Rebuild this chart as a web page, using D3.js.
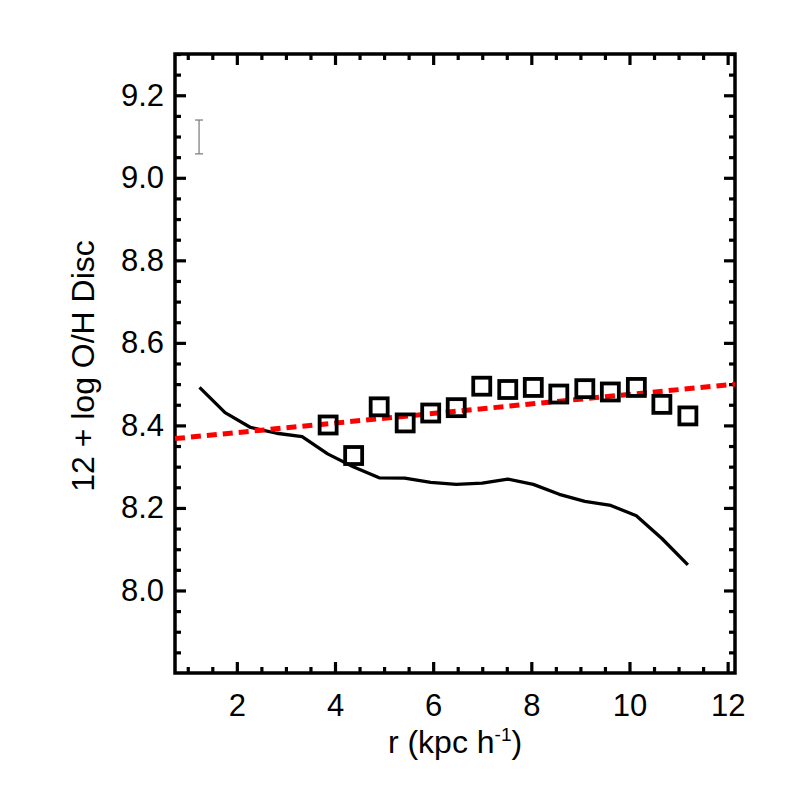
<!DOCTYPE html>
<html>
<head>
<meta charset="utf-8">
<script src="https://cdn.jsdelivr.net/npm/d3@7"></script>
<style>
  body { margin: 0; background: #fff; }
  text { font-family: "Liberation Sans", Arial, Helvetica, sans-serif; fill: #000; }
</style>
</head>
<body>
<script>
// model profile (solid line)
var modelR = [1.24, 1.76, 2.28, 2.81, 3.33, 3.85, 4.37, 4.90, 5.42, 5.95,
              6.47, 7.00, 7.52, 8.04, 8.57, 9.09, 9.62, 10.14, 10.66, 11.19];
var modelOH = [8.492, 8.431, 8.395, 8.381, 8.373, 8.331, 8.300, 8.273, 8.272, 8.262,
               8.257, 8.260, 8.270, 8.257, 8.233, 8.216, 8.206, 8.181, 8.126, 8.062];

// observed points (squares)
var obsR = [3.86, 4.38, 4.90, 5.43, 5.95, 6.47, 6.99, 7.52, 8.04, 8.56,
            9.09, 9.61, 10.14, 10.66, 11.19];
var obsOH = [8.401, 8.327, 8.445, 8.406, 8.430, 8.443, 8.495, 8.487, 8.492, 8.476,
             8.489, 8.481, 8.492, 8.451, 8.423];

// fitted gradient (red dotted)
var fitR = [0.74, 12.15];
var fitOH = [8.368, 8.500];

// typical error bar
var errR = [1.23];
var errOH = [9.099];
var errSize = [0.041];

var xTicks = [2, 4, 6, 8, 10, 12];
var yTicks = [8.0, 8.2, 8.4, 8.6, 8.8, 9.0, 9.2];

var width = 786, height = 786;

var svg = d3.select("body").append("svg")
    .attr("width", width)
    .attr("height", height);

var x = d3.scaleLinear().domain([0.74, 12.15]).range([175, 735]);
var y = d3.scaleLinear().domain([7.8, 9.3]).range([673, 54]);

var xMinor = d3.range(1, 12.01, 0.5).filter(v => xTicks.indexOf(v) < 0);
var yMinor = d3.range(7.85, 9.3, 0.05).filter(v => !yTicks.some(t => Math.abs(t - v) < 1e-6));

function styleAxis(g) {
  g.select(".domain").remove();
  g.selectAll(".tick line").attr("stroke", "#000").attr("stroke-width", 3.2);
  g.selectAll("text").style("font-size", "31px").attr("fill", "#000");
}

// bottom
svg.append("g").attr("transform", `translate(0,${y.range()[0]})`)
  .call(d3.axisBottom(x).tickValues(xTicks).tickSize(-11).tickPadding(21).tickFormat(d3.format("d")))
  .call(styleAxis);
svg.append("g").attr("transform", `translate(0,${y.range()[0]})`)
  .call(d3.axisBottom(x).tickValues(xMinor).tickSize(-6).tickFormat(""))
  .call(styleAxis);
// top
svg.append("g").attr("transform", `translate(0,${y.range()[1]})`)
  .call(d3.axisTop(x).tickValues(xTicks).tickSize(-11).tickFormat(""))
  .call(styleAxis);
svg.append("g").attr("transform", `translate(0,${y.range()[1]})`)
  .call(d3.axisTop(x).tickValues(xMinor).tickSize(-6).tickFormat(""))
  .call(styleAxis);
// left
svg.append("g").attr("transform", `translate(${x.range()[0]},0)`)
  .call(d3.axisLeft(y).tickValues(yTicks).tickSize(-11).tickPadding(11).tickFormat(d3.format(".1f")))
  .call(styleAxis);
svg.append("g").attr("transform", `translate(${x.range()[0]},0)`)
  .call(d3.axisLeft(y).tickValues(yMinor).tickSize(-6).tickFormat(""))
  .call(styleAxis);
// right
svg.append("g").attr("transform", `translate(${x.range()[1]},0)`)
  .call(d3.axisRight(y).tickValues(yTicks).tickSize(-11).tickFormat(""))
  .call(styleAxis);
svg.append("g").attr("transform", `translate(${x.range()[1]},0)`)
  .call(d3.axisRight(y).tickValues(yMinor).tickSize(-6).tickFormat(""))
  .call(styleAxis);

// frame
svg.append("rect")
  .attr("x", x.range()[0]).attr("y", y.range()[1])
  .attr("width", x.range()[1] - x.range()[0])
  .attr("height", y.range()[0] - y.range()[1])
  .attr("fill", "none").attr("stroke", "#000").attr("stroke-width", 3.5);

// model line
var line = d3.line().x(d => x(d[0])).y(d => y(d[1]));
svg.append("path")
  .datum(d3.zip(modelR, modelOH))
  .attr("d", line)
  .attr("fill", "none")
  .attr("stroke", "#000")
  .attr("stroke-width", 3.3)
  .attr("stroke-linejoin", "round");

// fit
svg.append("path")
  .datum(d3.zip(fitR, fitOH))
  .attr("d", line)
  .attr("fill", "none")
  .attr("stroke", "#ff0000")
  .attr("stroke-width", 5)
  .attr("stroke-dasharray", "10,6");

// squares
var sq = 17;
svg.append("g").selectAll("rect")
  .data(d3.zip(obsR, obsOH))
  .join("rect")
    .attr("x", d => x(d[0]) - sq / 2)
    .attr("y", d => y(d[1]) - sq / 2)
    .attr("width", sq)
    .attr("height", sq)
    .attr("fill", "none")
    .attr("stroke", "#000")
    .attr("stroke-width", 3.8);

// error bar
var eb = svg.append("g").attr("stroke", "#777").attr("stroke-width", 1.2);
errR.forEach((r, i) => {
  var cx = x(r), y0 = y(errOH[i] - errSize[i]), y1 = y(errOH[i] + errSize[i]);
  eb.append("line").attr("x1", cx).attr("x2", cx).attr("y1", y0).attr("y2", y1);
  eb.append("line").attr("x1", cx - 4).attr("x2", cx + 4).attr("y1", y0).attr("y2", y0);
  eb.append("line").attr("x1", cx - 4).attr("x2", cx + 4).attr("y1", y1).attr("y2", y1);
});

// axis titles
var xt = svg.append("text")
  .attr("x", (x.range()[0] + x.range()[1]) / 2)
  .attr("y", 753)
  .attr("text-anchor", "middle")
  .style("font-size", "32px");
xt.append("tspan").text("r (kpc h");
xt.append("tspan").attr("dy", -12).style("font-size", "19px").text("-1");
xt.append("tspan").attr("dy", 12).text(")");

svg.append("text")
  .attr("transform", "translate(94,366) rotate(-90)")
  .attr("text-anchor", "middle")
  .style("font-size", "32px")
  .text("12 + log O/H Disc");
</script>
</body>
</html>
